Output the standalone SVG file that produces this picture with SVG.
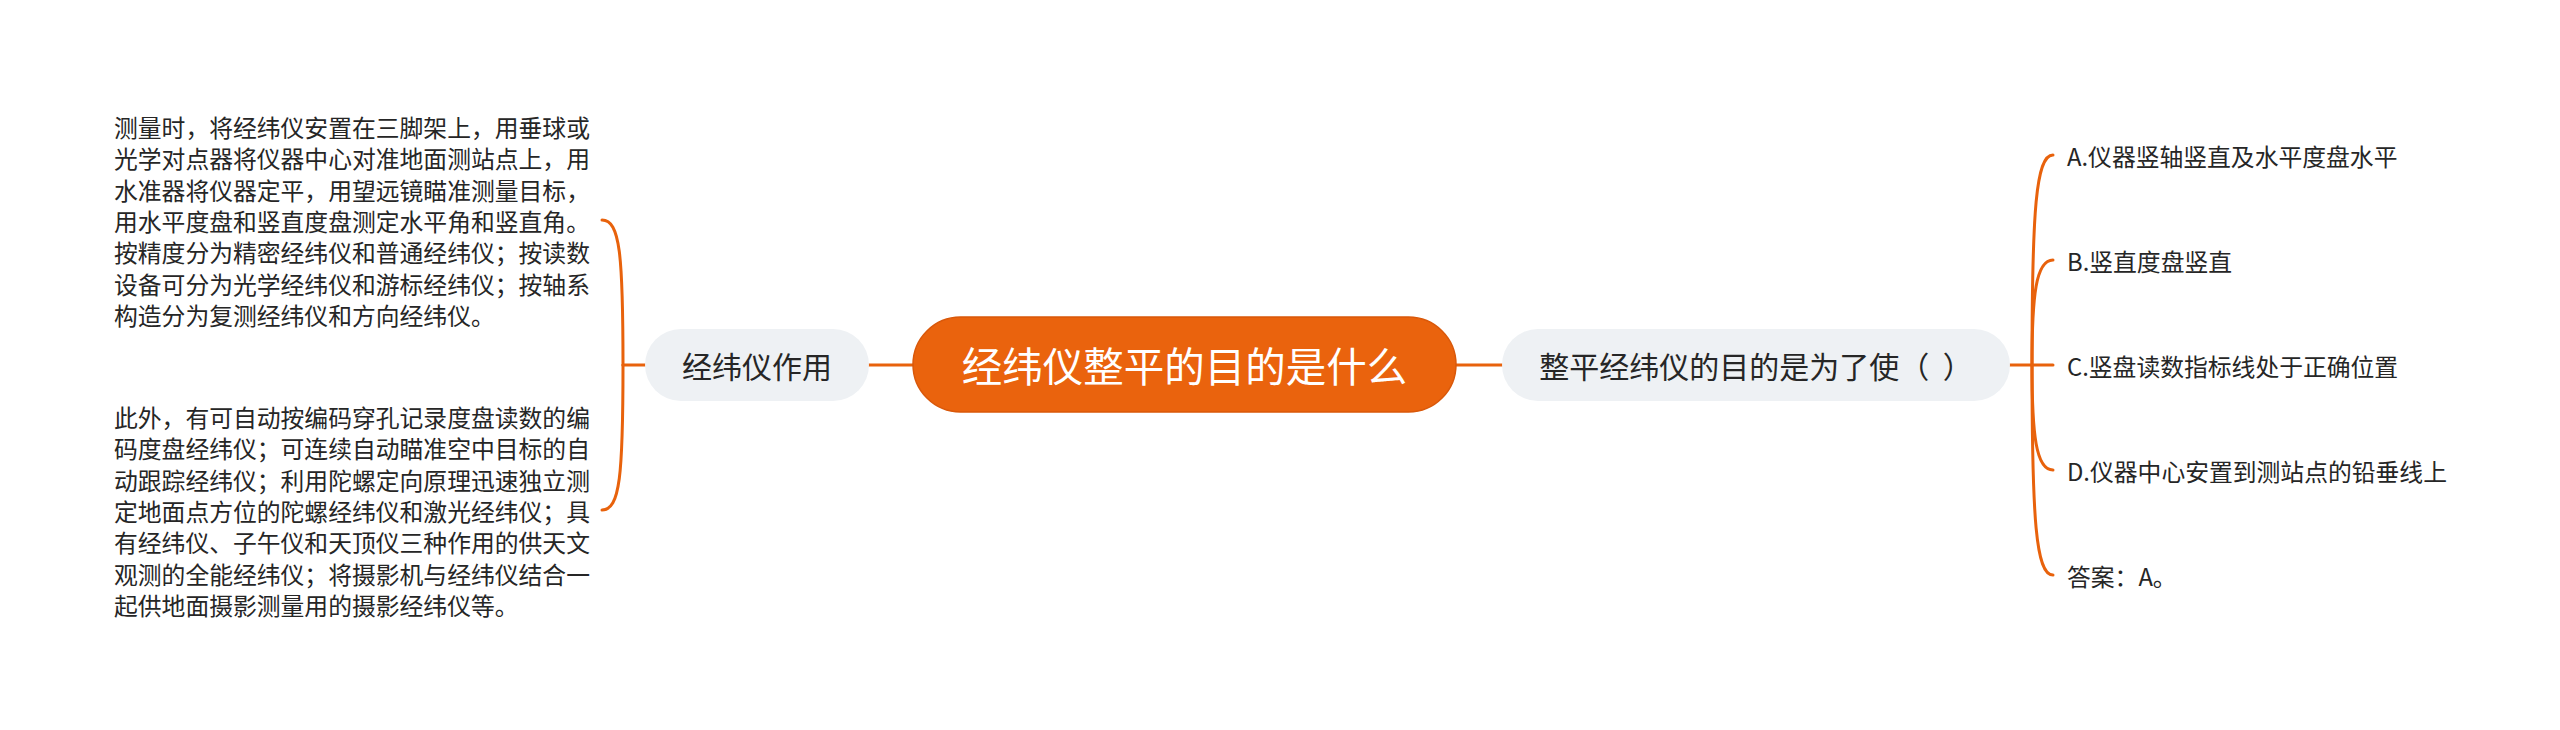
<svg xmlns="http://www.w3.org/2000/svg" width="2560" height="730" viewBox="0 0 2560 730">
<style>
.line{fill:none;stroke:#E8620C;stroke-width:3;stroke-linecap:round}
.sub{fill:#EEF1F4}
.t{font-family:"Noto Sans CJK SC","Noto Sans",sans-serif;fill:#262626}
.s{font-size:23.8px}
.m{font-size:30px;text-anchor:middle;dominant-baseline:central}
.c{font-size:40.5px;text-anchor:middle;dominant-baseline:central;fill:#FFFFFF}
</style>
<rect width="2560" height="730" fill="#FFFFFF"/>
<g id="connectors">
<line class="line" x1="869" y1="365" x2="913" y2="365"/>
<line class="line" x1="1456" y1="365" x2="1502" y2="365"/>
<line class="line" x1="623" y1="365" x2="645" y2="365"/>
<path class="line" d="M623 365 C623 255 620 220 602 220"/>
<path class="line" d="M623 365 C623 475 620 510 602 510"/>
<line class="line" x1="2010" y1="365" x2="2053" y2="365"/>
<path class="line" d="M2032 365 C2032 210 2036 155 2053 155"/>
<path class="line" d="M2032 365 C2032 295 2036 260 2053 260"/>
<path class="line" d="M2032 365 C2032 435 2036 470 2053 470"/>
<path class="line" d="M2032 365 C2032 520 2036 575 2053 575"/>
</g>
<g id="center">
<rect x="913" y="317" width="543" height="95" rx="47.5" fill="#EA630D" stroke="#D9580A" stroke-width="1.5"/>
<text class="t c" x="1184.5" y="364.5">经纬仪整平的目的是什么</text>
</g>
<g id="left-node">
<rect class="sub" x="645" y="329" width="224" height="72" rx="36"/>
<text class="t m" x="757" y="365">经纬仪作用</text>
</g>
<g id="right-node">
<rect class="sub" x="1502" y="329" width="508" height="72" rx="36"/>
<text class="t m" x="1756" y="365">整平经纬仪的目的是为了使（<tspan xml:space="preserve">  </tspan>）</text>
</g>
<g id="left-text-1">
<text class="t s" dominant-baseline="central">
<tspan x="114" y="126">测量时，将经纬仪安置在三脚架上，用垂球或</tspan>
<tspan x="114" y="157.3">光学对点器将仪器中心对准地面测站点上，用</tspan>
<tspan x="114" y="188.6">水准器将仪器定平，用望远镜瞄准测量目标，</tspan>
<tspan x="114" y="220">用水平度盘和竖直度盘测定水平角和竖直角。</tspan>
<tspan x="114" y="251.3">按精度分为精密经纬仪和普通经纬仪；按读数</tspan>
<tspan x="114" y="282.6">设备可分为光学经纬仪和游标经纬仪；按轴系</tspan>
<tspan x="114" y="314">构造分为复测经纬仪和方向经纬仪。</tspan>
</text>
</g>
<g id="left-text-2">
<text class="t s" dominant-baseline="central">
<tspan x="114" y="416">此外，有可自动按编码穿孔记录度盘读数的编</tspan>
<tspan x="114" y="447.3">码度盘经纬仪；可连续自动瞄准空中目标的自</tspan>
<tspan x="114" y="478.6">动跟踪经纬仪；利用陀螺定向原理迅速独立测</tspan>
<tspan x="114" y="510">定地面点方位的陀螺经纬仪和激光经纬仪；具</tspan>
<tspan x="114" y="541.3">有经纬仪、子午仪和天顶仪三种作用的供天文</tspan>
<tspan x="114" y="572.6">观测的全能经纬仪；将摄影机与经纬仪结合一</tspan>
<tspan x="114" y="604">起供地面摄影测量用的摄影经纬仪等。</tspan>
</text>
</g>
<g id="option-a"><text class="t s" x="2067" y="155" dominant-baseline="central">A.仪器竖轴竖直及水平度盘水平</text></g>
<g id="option-b"><text class="t s" x="2067" y="260" dominant-baseline="central">B.竖直度盘竖直</text></g>
<g id="option-c"><text class="t s" x="2067" y="365" dominant-baseline="central">C.竖盘读数指标线处于正确位置</text></g>
<g id="option-d"><text class="t s" x="2067" y="470" dominant-baseline="central">D.仪器中心安置到测站点的铅垂线上</text></g>
<g id="answer"><text class="t s" x="2067" y="575" dominant-baseline="central">答案：A。</text></g>
</svg>
